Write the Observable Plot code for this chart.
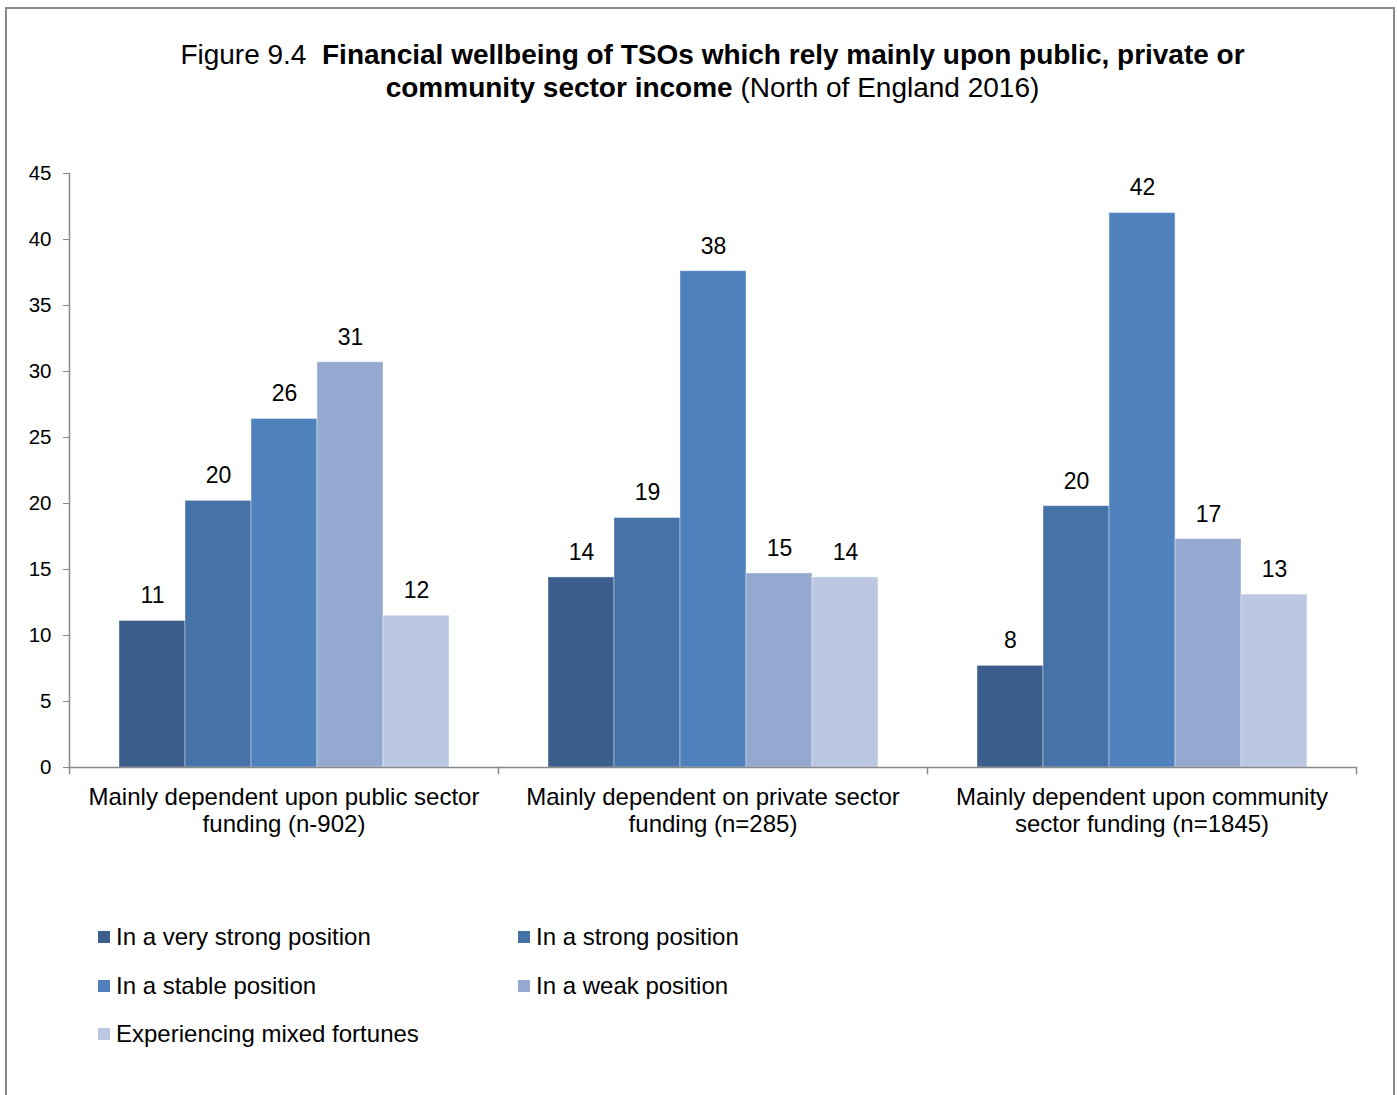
<!DOCTYPE html>
<html><head><meta charset="utf-8">
<script src="https://cdn.jsdelivr.net/npm/d3@7"></script>
<script src="https://cdn.jsdelivr.net/npm/@observablehq/plot@0.6"></script>
<style>
body{margin:0;background:#fff;font-family:"Liberation Sans",Arial,sans-serif;color:#000;}
#wrap{position:relative;width:1397px;height:1095px;overflow:hidden;background:#fff;}
#border{position:absolute;left:5px;top:7px;width:1386px;height:1200px;border:2px solid #8a8a8a;}
#title{position:absolute;left:69px;width:1287px;top:38px;text-align:center;font-size:28px;line-height:33px;}
#chart{position:absolute;left:0;top:150px;}
#legend{position:absolute;left:98px;top:913px;display:grid;grid-template-columns:420px 400px;}
.item{display:flex;align-items:center;height:48.5px;font-size:24px;white-space:nowrap;}
.sw{width:12px;height:12px;margin-right:6px;flex:none;}
</style></head>
<body>
<div id="wrap">
<div id="border"></div>
<div id="title">Figure 9.4&nbsp; <b>Financial wellbeing of TSOs which rely mainly upon public, private or</b><br><b>community sector income</b> (North of England 2016)</div>
<div id="chart"></div>
<div id="legend"></div>
</div>
<script>
const groups = ["public", "private", "community"];
const groupLabels = [
  "Mainly dependent upon public sector\nfunding (n-902)",
  "Mainly dependent on private sector\nfunding (n=285)",
  "Mainly dependent upon community\nsector funding (n=1845)"
];
const series = [
  "In a very strong position",
  "In a strong position",
  "In a stable position",
  "In a weak position",
  "Experiencing mixed fortunes"
];
const veryStrong = [11.1, 14.4, 7.7];
const strong = [20.2, 18.9, 19.8];
const stable = [26.4, 37.6, 42.0];
const weak = [30.7, 14.7, 17.3];
const mixed = [11.5, 14.4, 13.1];
const colors = ["#3B5E8C", "#4572A7", "#4F81BD", "#95A9D0", "#BCC8E1"];
const yTicks = [0, 5, 10, 15, 20, 25, 30, 35, 40, 45];

const seriesValues = [veryStrong, strong, stable, weak, mixed];
const data = [];
groups.forEach((g, i) => series.forEach((s, j) => data.push({group: g, series: s, value: seriesValues[j][i]})));

const gray = "#898989";
const chart = Plot.plot({
  width: 1397, height: 720,
  marginTop: 23, marginBottom: 103, marginLeft: 69, marginRight: 41,
  style: {fontFamily: "Liberation Sans, Arial, sans-serif", fontSize: "20px", background: "transparent", color: "black", overflow: "visible"},
  fx: {domain: groups, padding: 0, label: null},
  x: {domain: series, paddingInner: 0, paddingOuter: 0.75, axis: null},
  y: {domain: [0, 45], label: null},
  color: {domain: series, range: colors},
  marks: [
    Plot.barY(data, {fx: "group", x: "series", y: "value", fill: "series", stroke: "white", strokeOpacity: 0.4, strokeWidth: 1}),
    Plot.text(data, {fx: "group", x: "series", y: "value", text: d => d3.format(".0f")(d.value), dy: -25, fill: "black", fontSize: 23}),
    Plot.ruleY([0], {stroke: gray, strokeWidth: 1.5}),
    Plot.frame({anchor: "left", facetAnchor: "left", stroke: gray, strokeWidth: 1.5}),
    Plot.frame({anchor: "left", insetTop: 594, insetBottom: -6, stroke: gray, strokeWidth: 1.5}),
    Plot.frame({anchor: "right", facetAnchor: "right", insetTop: 594, insetBottom: -6, stroke: gray, strokeWidth: 1.5}),
    Plot.axisY({ticks: yTicks, tickSize: 6, tickPadding: 12, stroke: gray, fill: "black", label: null, fontSize: 20.5}),
    Plot.axisFx({anchor: "bottom", tickSize: 0, tickPadding: 18, tickFormat: g => groupLabels[groups.indexOf(g)], lineHeight: 1.13, label: null, fill: "black", fontSize: 24})
  ]
});
document.getElementById("chart").appendChild(chart);

const legend = document.getElementById("legend");
series.forEach((s, j) => {
  const it = document.createElement("div");
  it.className = "item";
  const sw = document.createElement("span");
  sw.className = "sw";
  sw.style.background = colors[j];
  it.appendChild(sw);
  it.appendChild(document.createTextNode(s));
  legend.appendChild(it);
});
</script>
</body></html>
